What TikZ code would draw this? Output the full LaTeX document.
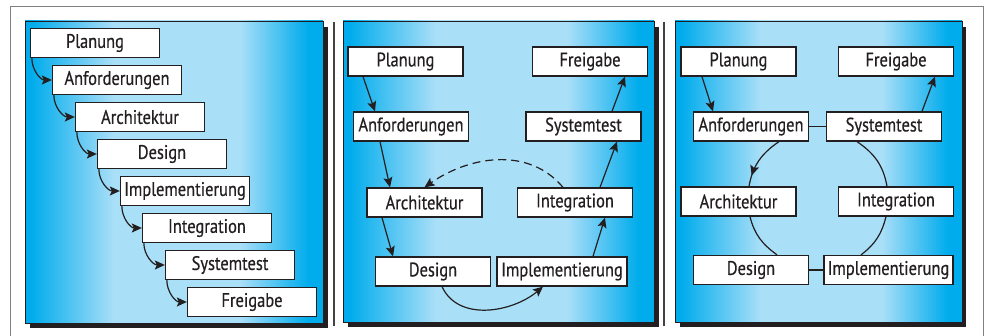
\documentclass[tikz,border=0pt]{standalone}
\usepackage{fontspec}
\setmainfont[FakeStretch=0.84,FakeBold=0.5]{PT Sans}
\usetikzlibrary{arrows.meta,decorations.markings}
\definecolor{ink}{RGB}{35,31,32}
\definecolor{panelblue}{RGB}{0,172,236}
\definecolor{panellight}{RGB}{170,223,248}
\pgfdeclarehorizontalshading{panelshade}{100bp}{color(0bp)=(panelblue); color(26bp)=(panelblue); color(40bp)=(panellight); color(61bp)=(panellight); color(72.5bp)=(panelblue); color(100bp)=(panelblue)}

\begin{document}
\begin{tikzpicture}[x=1pt,y=-1pt,
	box/.style={draw=ink,line width=1.3pt,fill=white,text=ink,inner sep=0,minimum width=115pt,minimum height=29pt,font=\fontsize{19.6}{19.6}\selectfont},
	fallbox/.style={box,minimum width=129pt},
	flow/.style={draw=ink,line width=1.2pt,-{Stealth[length=10pt,width=9pt,inset=2pt]}},
	ring/.style={draw=ink,line width=1.2pt},
	midarrow/.style={postaction={decorate},decoration={markings,mark=at position 0.8 with {\arrow{Stealth[length=10pt,width=9pt,inset=2pt]}}}},
	panel/.style={shading=panelshade,draw=ink,line width=0.8pt}]
	\useasboundingbox (0,0) rectangle (986,336);
	\draw[gray,line width=0.8pt] (10,336) -- (10,6) -- (983,6) -- (983,336);
	\fill[ink] (30,27) rectangle (328,328);
	\fill[ink] (348,27) rectangle (659,327);
	\fill[ink] (680,27) rectangle (966,327);
	\shade[panel] (25,21) rectangle (323,323);
	\shade[panel] (343,21) rectangle (654,322);
	\shade[panel] (675,21) rectangle (962,322);
	\draw[ink!85,line width=2pt] (334,22) -- (334,326);
	\draw[ink!85,line width=2pt] (664,22) -- (664,326);

	\node[fallbox] (1) at (95,43) {Planung};
	\node[fallbox] (2) at (117,80) {Anforderungen};
	\node[fallbox] (3) at (140,117) {Architektur};
	\node[fallbox] (4) at (162,154) {Design};
	\node[fallbox] (5) at (185,191) {Implementierung};
	\node[fallbox] (6) at (207,228) {Integration};
	\node[fallbox] (7) at (230,265) {Systemtest};
	\node[fallbox] (8) at (252,302) {Freigabe};
	\draw[flow] ([xshift=2pt]1.south west) to[out=-90,in=180] (2.west);
	\draw[flow] ([xshift=2pt]2.south west) to[out=-90,in=180] (3.west);
	\draw[flow] ([xshift=2pt]3.south west) to[out=-90,in=180] (4.west);
	\draw[flow] ([xshift=2pt]4.south west) to[out=-90,in=180] (5.west);
	\draw[flow] ([xshift=2pt]5.south west) to[out=-90,in=180] (6.west);
	\draw[flow] ([xshift=2pt]6.south west) to[out=-90,in=180] (7.west);
	\draw[flow] ([xshift=2pt]7.south west) to[out=-90,in=180] (8.west);

	\node[box] (11) at (405.5,61.5) {Planung};
	\node[box] (12) at (411,126.5) {Anforderungen};
	\node[box] (13) at (424.5,202.5) {Architektur};
	\node[box] (14) at (433,271.5) {Design};
	\node[box,minimum width=130pt] (15) at (562,271.5) {Implementierung};
	\node[box] (16) at (575,202.5) {Integration};
	\node[box] (17) at (583.5,126.5) {Systemtest};
	\node[box] (18) at (590,61.5) {Freigabe};
	\draw[flow] ([xshift=-42.5pt]11.south) -- ([xshift=-36pt]12.north);
	\draw[flow] ([xshift=-31pt]12.south) -- ([xshift=-34.5pt]13.north);
	\draw[flow] ([xshift=-42.5pt]13.south) -- ([xshift=-40pt]14.north);
	\draw[flow] ([xshift=9pt]14.south) to[out=-65,in=-140] ([xshift=-19pt]15.south);
	\draw[flow] ([xshift=31pt]15.north) -- ([xshift=30pt]16.south);
	\draw[flow] ([xshift=25pt]16.north) -- ([xshift=33.5pt]17.south);
	\draw[flow] ([xshift=28.5pt]17.north) -- ([xshift=35pt]18.south);
	\draw[flow,dash pattern=on 8pt off 5pt] ([xshift=-12pt]16.north) to[out=130,in=35] (13.north);

	\node[box] (21) at (738.5,61.5) {Planung};
	\node[box] (22) at (751,126.5) {Anforderungen};
	\node[box] (23) at (738.5,201.5) {Architektur};
	\node[box] (24) at (751,270) {Design};
	\node[box,minimum width=129pt] (25) at (888.5,270) {Implementierung};
	\node[box] (26) at (896,201.5) {Integration};
	\node[box] (27) at (884,126.5) {Systemtest};
	\node[box] (28) at (896,61.5) {Freigabe};
	\draw[flow] ([xshift=-36.5pt]21.south) -- ([xshift=-38pt]22.north);
	\draw[flow] ([xshift=38pt]27.north) -- ([xshift=39pt]28.south);
	\draw[ring,midarrow] ([xshift=28pt]22.south) to[out=214,in=80] ([xshift=10.5pt]23.north);
	\draw[ring] ([xshift=11.5pt]23.south) to[out=284,in=144] ([xshift=26pt]24.north);
	\draw[ring] (24.east) -- (25.west);
	\draw[ring] ([xshift=-27.5pt]25.north) to[out=37,in=256] ([xshift=-10pt]26.south);
	\draw[ring] ([xshift=-9pt]26.north) to[out=100,in=326] ([xshift=-27pt]27.south);
	\draw[ring] (22.east) -- (27.west);
\end{tikzpicture}
\end{document}
